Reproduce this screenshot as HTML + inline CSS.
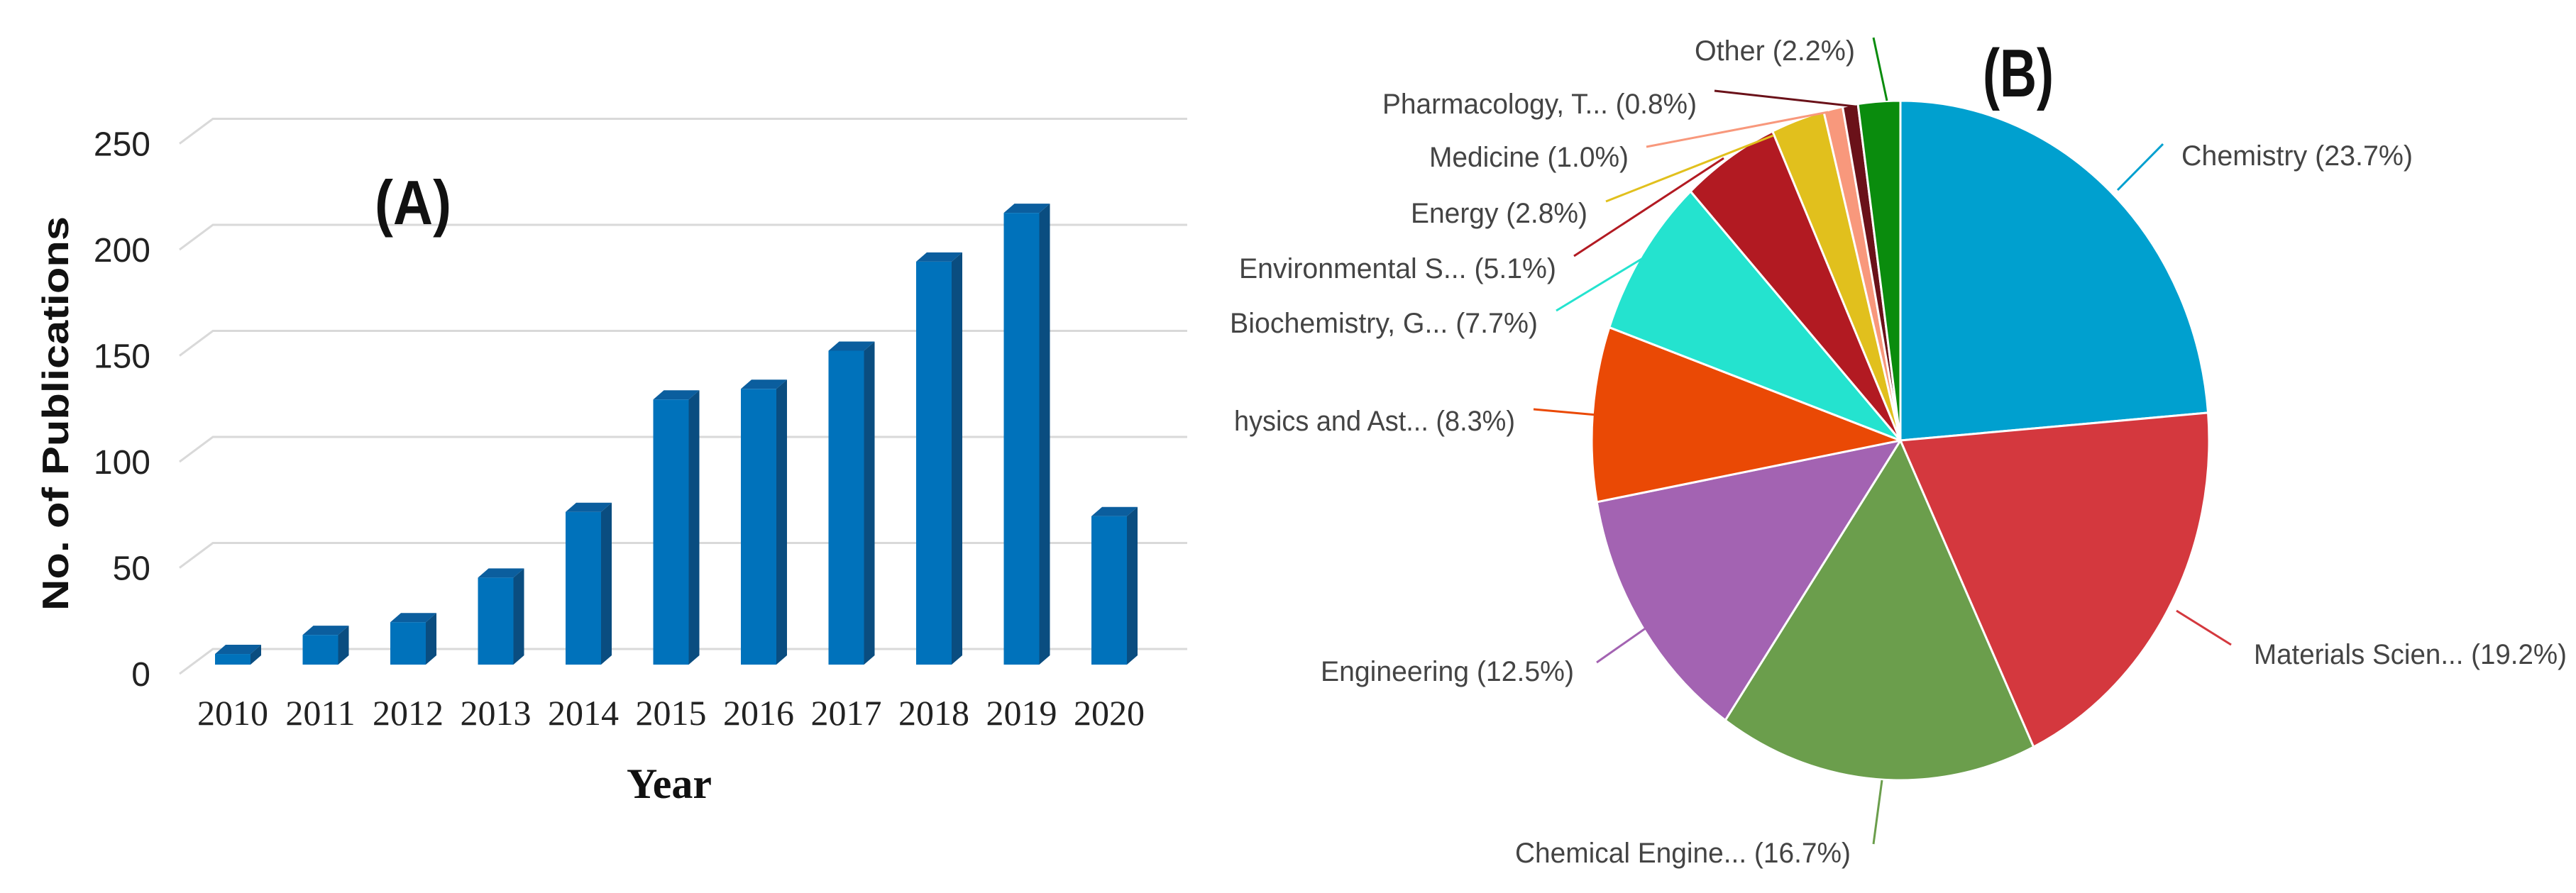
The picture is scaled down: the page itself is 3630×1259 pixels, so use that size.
<!DOCTYPE html>
<html><head><meta charset="utf-8"><style>
html,body{margin:0;padding:0;background:#fff;}
svg{display:block;}
</style></head><body>
<svg id="fig" width="3630" height="1259" viewBox="0 0 3630 1259" xmlns="http://www.w3.org/2000/svg">
<rect width="3630" height="1259" fill="#fff"/>
<g id="barChart"></g>
<g id="pieChart"></g>
</svg>
<script>
const years = ["2010","2011","2012","2013","2014","2015","2016","2017","2018","2019","2020"];
const publications = [5, 14, 20, 41, 72, 125, 130, 148, 190, 213, 70];
const yTicks = [0, 50, 100, 150, 200, 250];

const pieLabels = ["Chemistry","Materials Scien...","Chemical Engine...","Engineering","hysics and Ast...","Biochemistry, G...","Environmental S...","Energy","Medicine","Pharmacology, T...","Other"];
const pieValues = [23.7, 19.2, 16.7, 12.5, 8.3, 7.7, 5.1, 2.8, 1.0, 0.8, 2.2];
const pieColors = ["#00a0cf","#d4383e","#6b9e4c","#a363b2","#ea4905","#24e3cf","#b21a22","#e1c01d","#f8987c","#6a1119","#0a8c0d"];

const NS = "http://www.w3.org/2000/svg";
function mk(tag, attrs, parent){const e=document.createElementNS(NS,tag);for(const k in attrs)e.setAttribute(k,attrs[k]);parent.appendChild(e);return e;}

// ---- Bar chart ----
const bc = document.getElementById('barChart');
const backZero = 915, unit = 2.99, frontBase = 937;
const gx0 = 300, gx1 = 1673, diagDx = -47, diagDy = 35;
function yBack(v){return backZero - v*unit;}
function xCenter(i){return 328 + i*123.5;}
yTicks.forEach(t=>{
  const y = yBack(t);
  const g = mk('polyline',{points:`${gx0+diagDx},${y+diagDy} ${gx0},${y} ${gx1},${y}`,fill:'none',stroke:'#d9d9d9','stroke-width':3},bc);
  
  
  const tx = mk('text',{x:212,y:y+52,'text-anchor':'end','font-family':'Liberation Sans, sans-serif','font-size':48,fill:'#222'},bc);
  tx.textContent = t;
  
  
});
const bw = 50, dx = 15, dy = 13;
publications.forEach((v,i)=>{
  const cx = xCenter(i), x0 = cx - bw/2, x1 = cx + bw/2;
  const yt = frontBase - v*unit;
  const g = mk('g',{},bc);
  
  
  mk('polygon',{points:`${x1},${frontBase} ${x1+dx},${frontBase-dy} ${x1+dx},${yt-dy} ${x1},${yt}`,fill:'#0a4d80'},g);
  mk('polygon',{points:`${x0},${yt} ${x0+dx},${yt-dy} ${x1+dx},${yt-dy} ${x1},${yt}`,fill:'#0b5e9e'},g);
  mk('rect',{x:x0,y:yt,width:bw,height:frontBase-yt,fill:'#0072bb'},g);
  const tx = mk('text',{x:cx,y:1022,'text-anchor':'middle','font-family':'Liberation Serif, serif','font-size':50,fill:'#222'},bc);
  tx.textContent = years[i];
  
  
});
let t;
t = mk('text',{x:943,y:1125,'text-anchor':'middle','font-family':'Liberation Serif, serif','font-weight':'bold','font-size':60,fill:'#111'},bc);
t.textContent='Year';


t = mk('text',{x:0,y:0,transform:'translate(96,583) rotate(-90)','text-anchor':'middle','font-family':'Liberation Sans, sans-serif','font-weight':'bold','font-size':52,fill:'#111',textLength:556,lengthAdjust:'spacingAndGlyphs'},bc);
t.textContent='No. of Publications';


t = mk('text',{x:582,y:316,'text-anchor':'middle','font-family':'Liberation Sans, sans-serif','font-weight':'bold','font-size':88,fill:'#111',textLength:108,lengthAdjust:'spacingAndGlyphs'},bc);
t.textContent='(A)';



// ---- Pie chart ----
const pc = document.getElementById('pieChart');
const pcx = 2678, pcy = 621, rx = 435, ry = 479;
const total = pieValues.reduce((a,b)=>a+b,0);
function pt(a){return [pcx + rx*Math.sin(a), pcy - ry*Math.cos(a)];}
let acc = 0;
pieValues.forEach((v,i)=>{
  const a0 = acc/total*2*Math.PI; acc += v; const a1 = acc/total*2*Math.PI;
  const p0 = pt(a0), p1 = pt(a1), large = (a1-a0) > Math.PI ? 1 : 0;
  const s = mk('path',{d:`M${pcx},${pcy} L${p0[0]},${p0[1]} A${rx},${ry} 0 ${large} 1 ${p1[0]},${p1[1]} Z`,fill:pieColors[i],stroke:'#fff','stroke-width':3,'stroke-linejoin':'round'},pc);
  
  
});
// label layouts (positions only)
const layout = [
  {x:3074,y:233,w:326,line:[2984,268,3048,203]},
  {x:3176,y:936,w:441,line:[3067,861,3144,909]},
  {x:2135,y:1216,w:473,line:[2652,1100,2640,1190]},
  {x:1861,y:960,w:357,line:[2320,885,2250,934]},
  {x:1739,y:607,w:396,line:[2250,585,2161,577]},
  {x:1733,y:469,w:434,line:[2320,361,2193,438]},
  {x:1746,y:392,w:447,line:[2429,223,2218,361]},
  {x:1988,y:314,w:249,line:[2499,191,2263,284]},
  {x:2014,y:235,w:281,line:[2576,158,2320,207]},
  {x:1948,y:160,w:443,line:[2614,150,2416,128]},
  {x:2388,y:85,w:226,line:[2659,142,2640,53]}
];
pieLabels.forEach((lab,i)=>{
  const L = layout[i];
  const ln = mk('line',{x1:L.line[0],y1:L.line[1],x2:L.line[2],y2:L.line[3],stroke:pieColors[i],'stroke-width':3},pc);
  
  
  const tx = mk('text',{x:L.x,y:L.y,'font-family':'Liberation Sans, sans-serif','font-size':40,fill:'#444',textLength:L.w,lengthAdjust:'spacingAndGlyphs'},pc);
  tx.textContent = lab + ' (' + pieValues[i].toFixed(1) + '%)';
  
  
});
t = mk('text',{x:2844,y:136,'text-anchor':'middle','font-family':'Liberation Sans, sans-serif','font-weight':'bold','font-size':96,fill:'#111',textLength:100,lengthAdjust:'spacingAndGlyphs'},pc);
t.textContent='(B)';


</script>
</body></html>
